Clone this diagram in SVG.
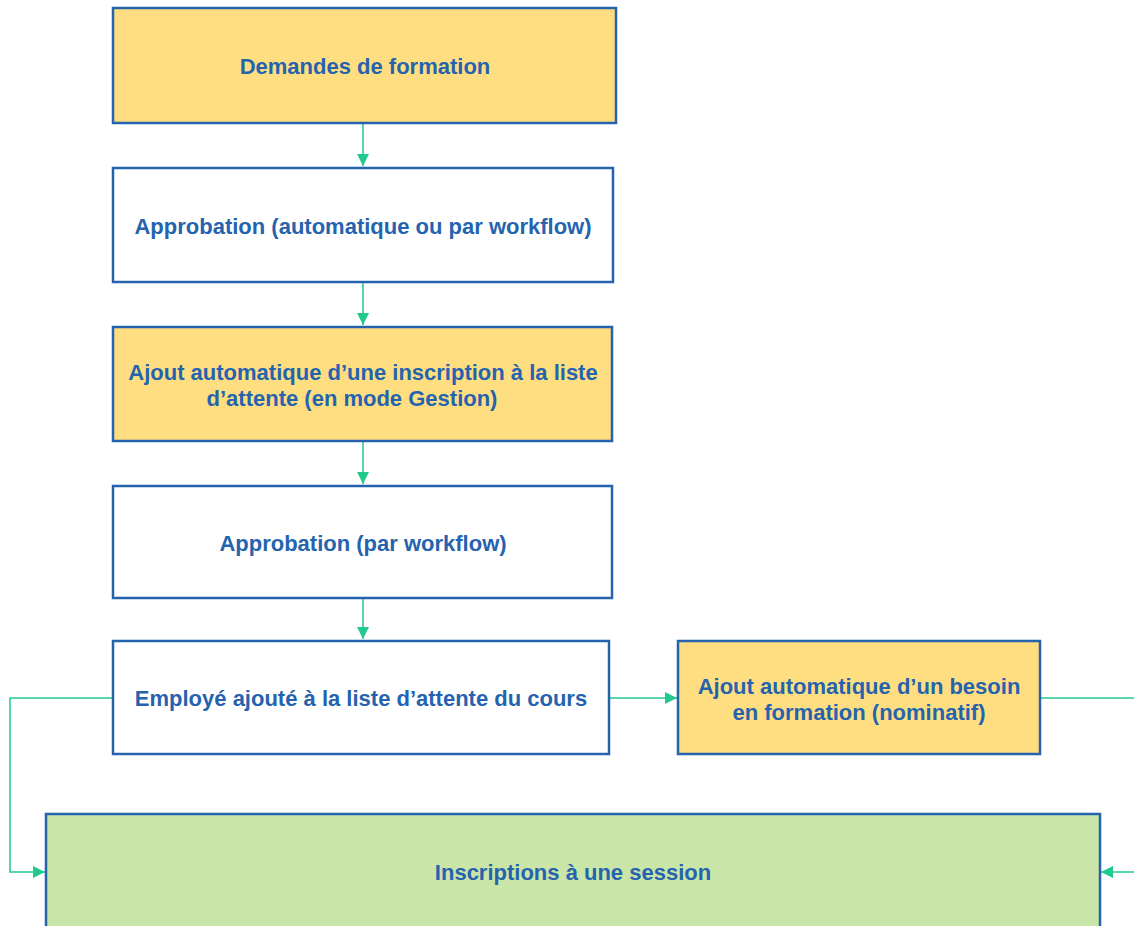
<svg xmlns="http://www.w3.org/2000/svg" width="1134" height="926" viewBox="0 0 1134 926">
<style>
.box{stroke:#2563AE;stroke-width:2.5}
.y{fill:#FFDE82}
.w{fill:#FFFFFF}
.g{fill:#C9E5A7}
.t{font-family:"Liberation Sans",Arial,sans-serif;font-weight:bold;font-size:22px;fill:#2563AE;text-anchor:middle;dominant-baseline:central}
.c{fill:none;stroke:#22C98C;stroke-width:1.5}
</style>
<defs>
<marker id="ah" viewBox="0 0 12 12" refX="12" refY="6" markerWidth="12" markerHeight="12" markerUnits="userSpaceOnUse" orient="auto">
<path d="M0,0 L12,6 L0,12 Z" fill="#22C98C"/>
</marker>
</defs>
<rect width="1134" height="926" fill="#FFFFFF"/>
<g id="connectors">
<line class="c" x1="363" y1="124" x2="363" y2="166" marker-end="url(#ah)"/>
<line class="c" x1="363" y1="283" x2="363" y2="325" marker-end="url(#ah)"/>
<line class="c" x1="363" y1="442" x2="363" y2="484" marker-end="url(#ah)"/>
<line class="c" x1="363" y1="599" x2="363" y2="639" marker-end="url(#ah)"/>
<line class="c" x1="610" y1="698" x2="677" y2="698" marker-end="url(#ah)"/>
<polyline class="c" points="112,698 10,698 10,872 45,872" marker-end="url(#ah)"/>
<line class="c" x1="1041" y1="698" x2="1134" y2="698"/>
<line class="c" x1="1134" y1="872" x2="1101" y2="872" marker-end="url(#ah)"/>
</g>
<g id="n1"><rect class="box y" x="113" y="8" width="503" height="115"/><text class="t" x="365" y="66">Demandes de formation</text></g>
<g id="n2"><rect class="box w" x="113" y="168" width="500" height="114"/><text class="t" x="363" y="226">Approbation (automatique ou par workflow)</text></g>
<g id="n3"><rect class="box y" x="113" y="327" width="499" height="114"/><text class="t" x="363" y="372">Ajout automatique d’une inscription à la liste</text><text class="t" x="352" y="398">d’attente (en mode Gestion)</text></g>
<g id="n4"><rect class="box w" x="113" y="486" width="499" height="112"/><text class="t" x="363" y="543">Approbation (par workflow)</text></g>
<g id="n5"><rect class="box w" x="113" y="641" width="496" height="113"/><text class="t" x="361" y="698">Employé ajouté à la liste d’attente du cours</text></g>
<g id="n6"><rect class="box y" x="678" y="641" width="362" height="113"/><text class="t" x="859" y="686">Ajout automatique d’un besoin</text><text class="t" x="859" y="712">en formation (nominatif)</text></g>
<g id="n7"><rect class="box g" x="46" y="814" width="1054" height="130"/><text class="t" x="573" y="872">Inscriptions à une session</text></g>
</svg>
